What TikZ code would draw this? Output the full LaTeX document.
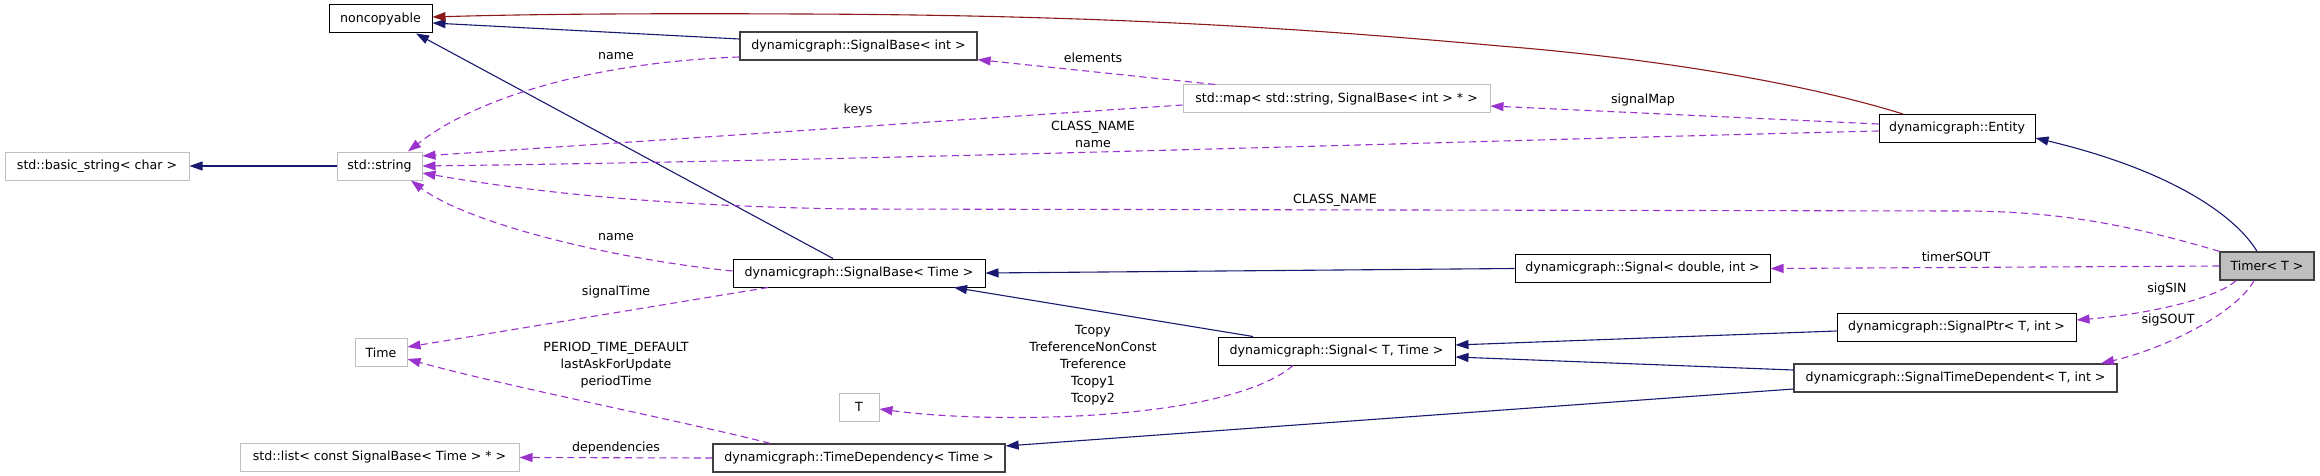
\documentclass[tikz,border=0pt]{standalone}
\usepackage{fontspec}
\setmainfont{DejaVu Sans}
\usetikzlibrary{arrows.meta}
\definecolor{inh}{HTML}{191970}
\definecolor{priv}{HTML}{8B1A1A}
\definecolor{usecol}{HTML}{9A32CD}
\definecolor{grayb}{HTML}{BFBFBF}
\definecolor{dkb}{HTML}{404040}
\begin{document}
\begin{tikzpicture}[x=1pt,y=-1pt,
  every node/.style={font=\fontsize{12.6}{17}\selectfont},
  cls/.style={draw=black, line width=1pt, fill=white, minimum height=28pt, inner sep=0pt, anchor=center},
  ext/.style={cls, draw=grayb},
  inc/.style={cls, draw=dkb, line width=1.3pt},
  pub/.style={draw=inh, line width=1.1pt, -{Triangle[length=13pt,width=9pt]}},
  prv/.style={draw=priv, line width=1.1pt, -{Triangle[length=13pt,width=9pt]}},
  usage/.style={draw=usecol, line width=1.1pt, dash pattern=on 7pt off 4.5pt, -{Triangle[length=13pt,width=9pt]}},
  lbl/.style={align=center, inner sep=0pt}
]
\useasboundingbox (0,0) rectangle (2320,476);
\fill[white] (0,0) rectangle (2320,476);

% nodes
\node[cls, minimum width=103pt] (nc) at (380.5,19) {noncopyable};
\node[ext, minimum width=184pt] (bs) at (97,166) {std::basic\_string< char >};
\node[ext, minimum width=85pt] (str) at (379.5,166) {std::string};
\node[inc, minimum width=237pt] (sbi) at (858.5,46) {dynamicgraph::SignalBase< int >};
\node[ext, minimum width=307pt] (map) at (1336.5,99) {std::map< std::string, SignalBase< int > * >};
\node[cls, minimum width=156pt] (ent) at (1957,128.5) {dynamicgraph::Entity};
\node[ext, minimum width=52pt] (time) at (381,352.5) {Time};
\node[ext, minimum width=279pt] (lst) at (379.5,457.5) {std::list< const SignalBase< Time > * >};
\node[cls, minimum width=252pt] (sbt) at (859,273) {dynamicgraph::SignalBase< Time >};
\node[cls, minimum width=237pt] (stt) at (1336.5,351) {dynamicgraph::Signal< T, Time >};
\node[ext, minimum width=40pt] (tn) at (859,407) {T};
\node[inc, minimum width=292pt] (td) at (859,458) {dynamicgraph::TimeDependency< Time >};
\node[cls, minimum width=255pt] (sdi) at (1642.5,268.5) {dynamicgraph::Signal< double, int >};
\node[inc, fill=grayb, minimum width=94pt] (tim) at (2267,266) {Timer< T >};
\node[cls, minimum width=239pt] (sp) at (1956.5,327) {dynamicgraph::SignalPtr< T, int >};
\node[inc, minimum width=323pt] (std) at (1955.5,378) {dynamicgraph::SignalTimeDependent< T, int >};

% inheritance
\draw[pub] ([yshift=7pt]sbi.west) -- ([yshift=-4pt]nc.east);
\draw[pub] ([xshift=-26pt]sbt.north) -- ([xshift=35.5pt]nc.south);
\draw[pub] (str.west) -- (bs.east);
\draw[prv] ([xshift=-54pt]ent.north) .. controls (1800,82) and (1650,58) .. (1500,46) .. controls (1300,28) and (1100,15) .. (800,14) .. controls (600,13) and (500,15) .. ([yshift=2pt]nc.east);
\draw[pub] ([xshift=-10pt]tim.north) .. controls (2235,215) and (2170,170) .. ([yshift=-9.5pt]ent.east);
\draw[pub] (sdi.west) -- (sbt.east);
\draw[pub] ([xshift=-83.5pt]stt.north) -- ([xshift=95pt]sbt.south);
\draw[pub] ([yshift=-4pt]sp.west) -- ([yshift=6pt]stt.east);
\draw[pub] ([yshift=8pt]std.west) -- ([yshift=-6pt]stt.east);
\draw[pub] ([yshift=-11pt]std.west) -- ([yshift=12pt]td.east);

% usage
\draw[usage] ([yshift=-11pt]sbi.west) .. controls (600,62) and (480,95) .. ([xshift=28.5pt]str.north);
\node[lbl] (l1) at (616,56) {name};
\draw[usage] ([xshift=-121.5pt]map.north) -- ([yshift=1pt]sbi.south east);
\node[lbl] (l2) at (1093,58) {elements};
\draw[usage] ([yshift=-6pt]map.west) -- ([yshift=10pt]str.east);
\node[lbl] (l3) at (858,110) {keys};
\draw[usage] ([yshift=4.5pt]ent.west) -- ([yshift=-7pt]map.east);
\node[lbl] (l4) at (1643,100) {signalMap};
\draw[usage] ([yshift=-2.5pt]ent.west) .. controls (1500,140) and (900,160) .. (str.east);
\node[lbl] (l5) at (1093,134) {CLASS\_NAME\\name};
\draw[usage] (tim.north west) .. controls (2120,222) and (2050,211) .. (1960,211) -- (850,209) .. controls (650,206) and (520,190) .. ([yshift=-7pt]str.east);
\node[lbl] (l6) at (1335,200) {CLASS\_NAME};
\draw[usage] ([yshift=2pt]sbt.west) .. controls (620,260) and (470,225) .. ([xshift=31.5pt]str.south);
\node[lbl] (l7) at (616,237) {name};
\draw[usage] ([xshift=-91pt]sbt.south) -- ([yshift=5.5pt]time.east);
\node[lbl] (l8) at (616,292) {signalTime};
\draw[usage] ([xshift=-89pt]td.north) .. controls (700,425) and (500,385) .. ([yshift=-6.5pt]time.east);
\node[lbl] (l9) at (616,365) {PERIOD\_TIME\_DEFAULT\\lastAskForUpdate\\periodTime};
\draw[usage] (td.west) -- (lst.east);
\node[lbl] (l10) at (616,448) {dependencies};
\draw[usage] ([xshift=-43.5pt]stt.south) .. controls (1230,420) and (1000,425) .. ([yshift=-2pt]tn.east);
\node[lbl] (l11) at (1093,365) {Tcopy\\TreferenceNonConst\\Treference\\Tcopy1\\Tcopy2};
\draw[usage] (tim.west) -- (sdi.east);
\node[lbl] (l12) at (1956,257) {timerSOUT};
\draw[usage] ([xshift=-31pt]tim.south) .. controls (2215,300) and (2140,315) .. ([yshift=7pt]sp.east);
\node[lbl] (l13) at (2167,289) {sigSIN};
\draw[usage] ([xshift=-13pt]tim.south) .. controls (2235,315) and (2160,350) .. ([xshift=145.5pt]std.north);
\node[lbl] (l14) at (2168,320) {sigSOUT};
\end{tikzpicture}
\end{document}
